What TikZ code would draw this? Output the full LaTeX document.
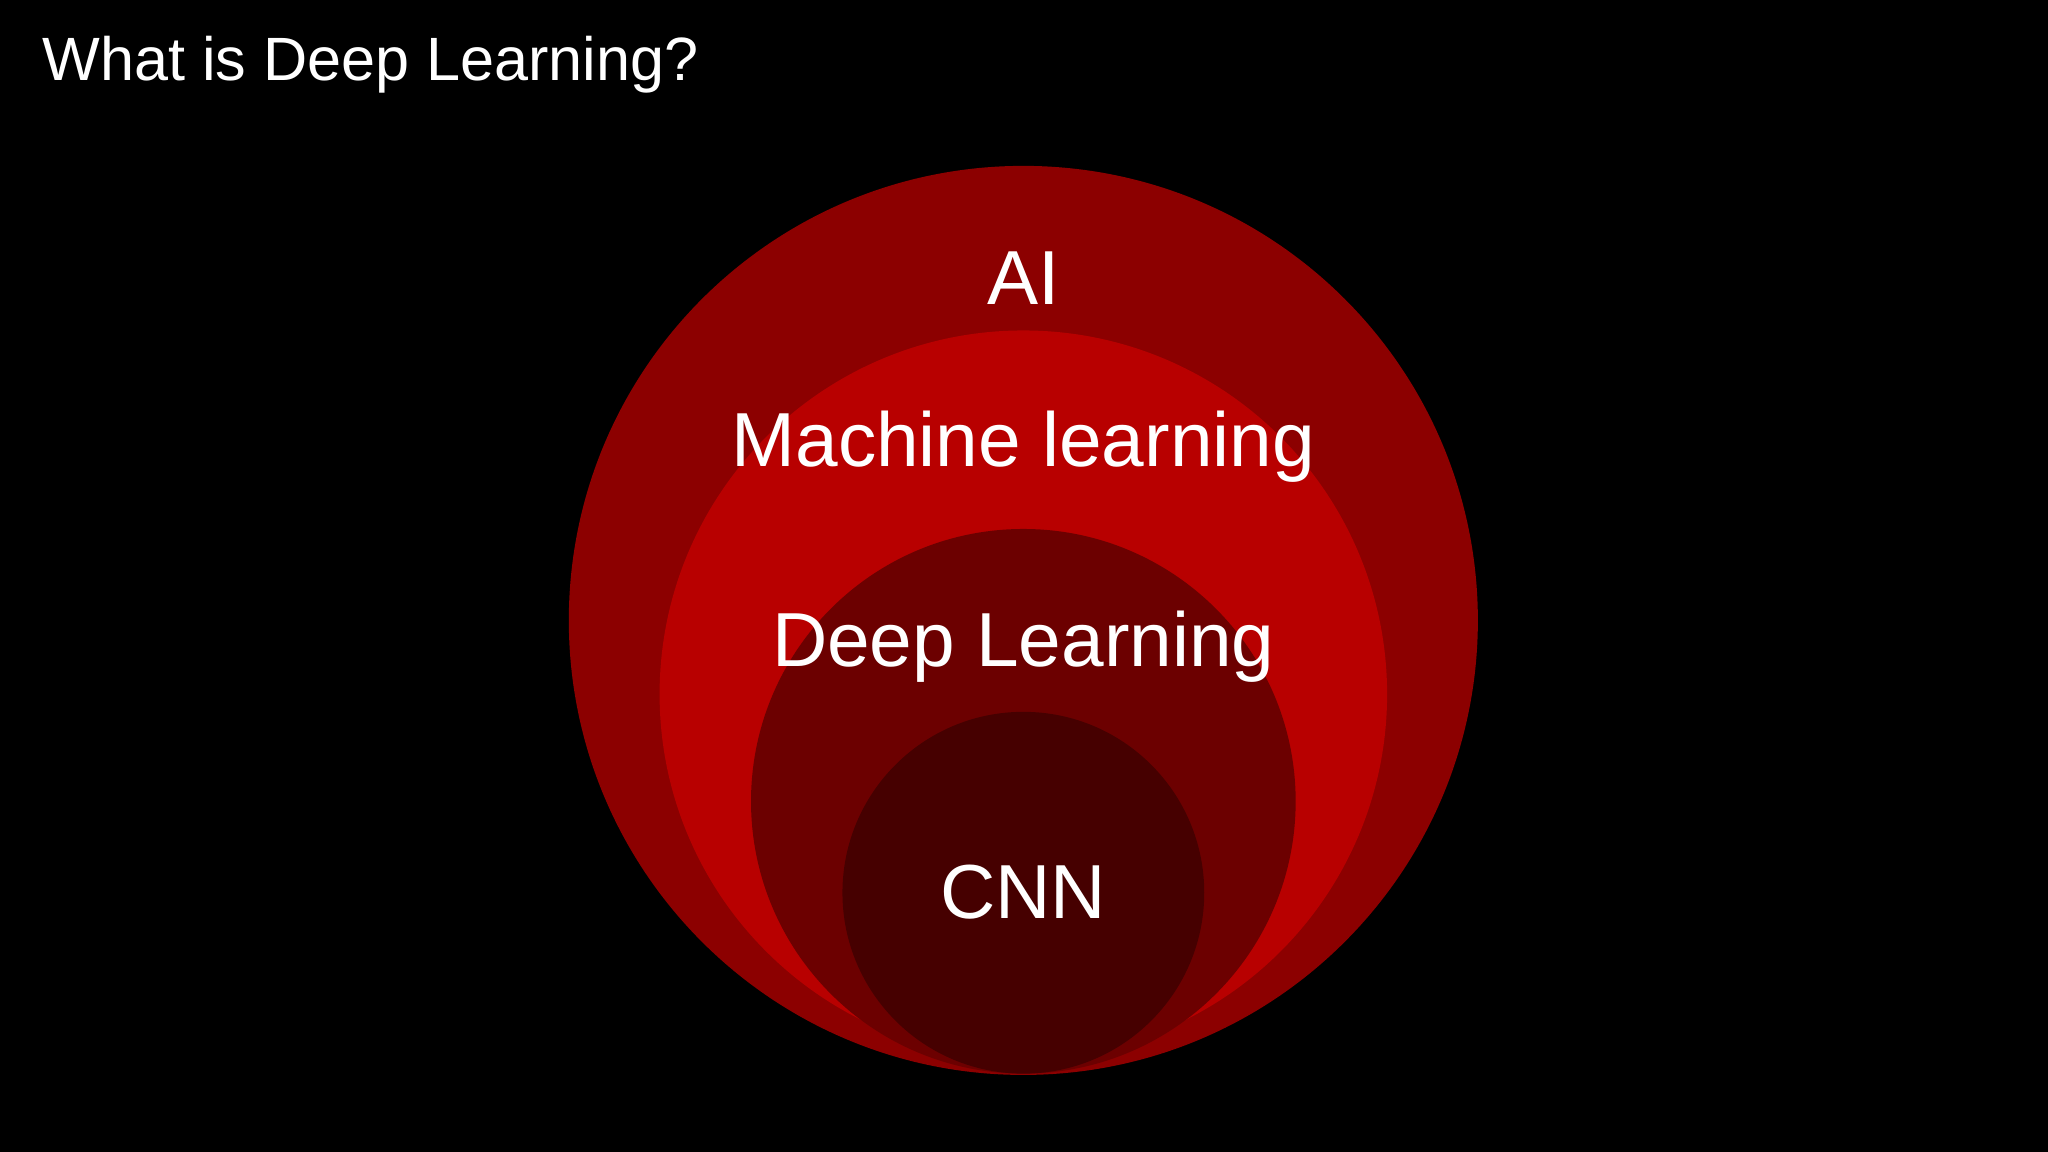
\documentclass[tikz,border=0pt]{standalone}
\usepackage{fontspec}
\setmainfont{Liberation Sans}
\definecolor{cAI}{HTML}{8C0000}
\definecolor{cML}{HTML}{B80000}
\definecolor{cDL}{HTML}{6C0000}
\definecolor{cCNN}{HTML}{460000}
\begin{document}
\begin{tikzpicture}[x=0.013061cm,y=-0.013061cm,
  lbl/.style={text=white,font=\fontsize{21.8}{26}\selectfont,inner sep=0pt}]
\fill[black] (0,0) rectangle (1568,882);
\useasboundingbox (0,0) rectangle (1568,882);
\fill[cAI] (783.5,475) circle (348);
\fill[cML] (783.5,531.5) circle (278.5);
\fill[cDL] (783.5,613.5) circle (208.5);
\fill[cCNN] (783.5,683.5) circle (138.5);
\node[lbl,anchor=base west,font=\fontsize{17.4}{21}\selectfont] (title) at (32,62) {What is Deep Learning?};
\node[lbl,anchor=base] (ai) at (783.5,233) {AI};
\node[lbl,anchor=base] (ml) at (783.5,357) {Machine learning};
\node[lbl,anchor=base] (dl) at (783.5,510) {Deep Learning};
\node[lbl,anchor=base] (cnn) at (783.5,703) {CNN};
\end{tikzpicture}
\end{document}
